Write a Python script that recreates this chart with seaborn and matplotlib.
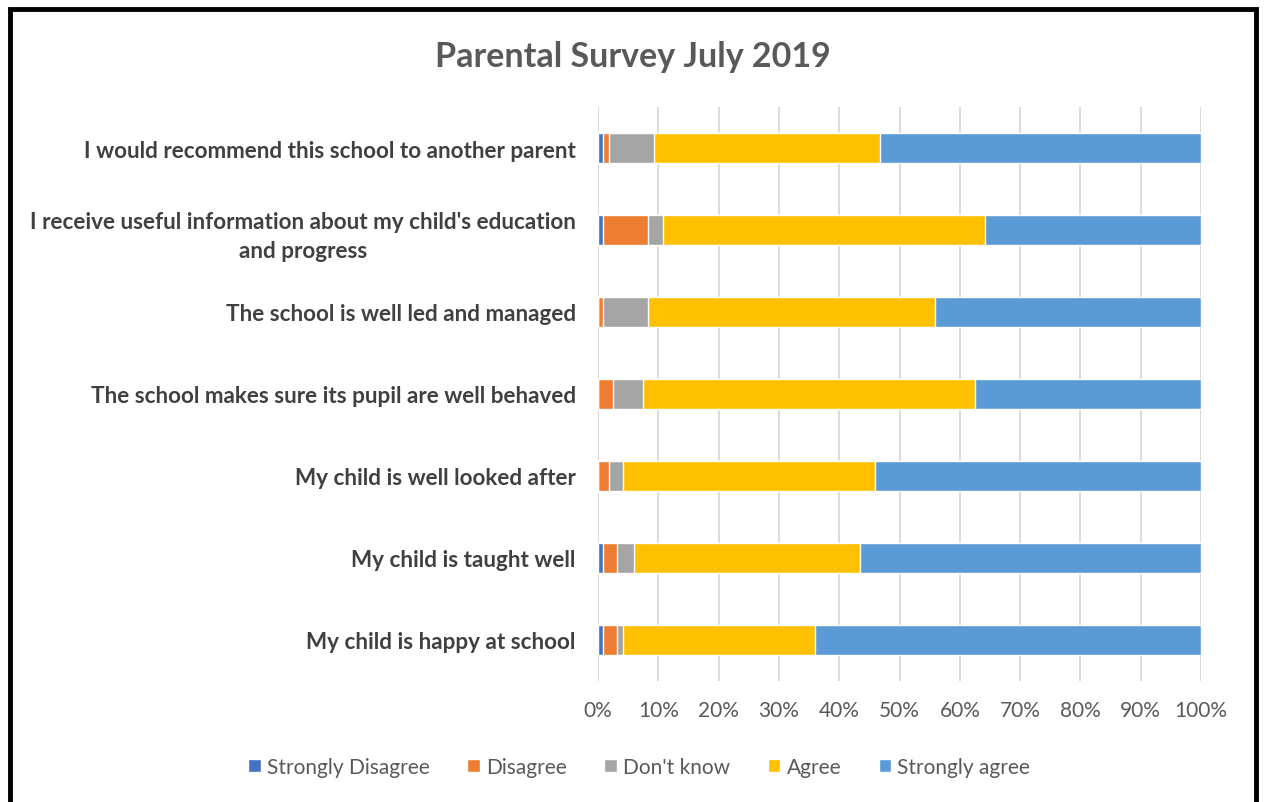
import numpy as np
import pandas as pd
import seaborn as sns
import matplotlib.pyplot as plt
from matplotlib.patches import Rectangle
from matplotlib.ticker import PercentFormatter

sns.set_style("white")
plt.rcParams['font.family'] = ['Lato', 'DejaVu Sans']

questions = [
    "I would recommend this school to another parent",
    "I receive useful information about my child's education\nand progress",
    "The school is well led and managed",
    "The school makes sure its pupil are well behaved",
    "My child is well looked after",
    "My child is taught well",
    "My child is happy at school",
]
responses = ["Strongly Disagree", "Disagree", "Don't know", "Agree", "Strongly agree"]
strongly_disagree = [0.8, 0.8, 0.0, 0.0, 0.0, 0.8, 0.8]
disagree = [1.0, 7.5, 0.8, 2.4, 1.8, 2.4, 2.4]
dont_know = [7.4, 2.5, 7.5, 5.1, 2.3, 2.7, 0.9]
agree = [37.6, 53.4, 47.6, 55.0, 41.8, 37.5, 31.9]
strongly_agree = [53.2, 35.8, 44.1, 37.5, 54.1, 56.6, 64.0]
colors = ["#4472C4", "#ED7D31", "#A5A5A5", "#FFC000", "#5B9BD5"]

df = pd.DataFrame({
    "question": questions,
    "Strongly Disagree": strongly_disagree,
    "Disagree": disagree,
    "Don't know": dont_know,
    "Agree": agree,
    "Strongly agree": strongly_agree,
})
vals = df[responses]
df[responses] = vals.div(vals.sum(axis=1), axis=0) * 100
cum = df[responses].cumsum(axis=1)
cum["question"] = df["question"]

fig = plt.figure(figsize=(12.66, 8.03), dpi=100)
ax = fig.add_axes([0.4724, 0.1507, 0.4763, 0.7148])

# draw cumulative bars from the right-most segment down so they stack visually
for resp, col in reversed(list(zip(responses, colors))):
    sns.barplot(data=cum, x=resp, y="question", color=col, ax=ax,
                width=0.375, saturation=1, label=resp, orient="h")

ax.set_xlim(0, 100)
ax.set_ylim(6.5, -0.5)
ax.set_xticks(np.arange(0, 101, 10))
ax.xaxis.set_major_formatter(PercentFormatter(decimals=0))
ax.set_xlabel("")
ax.set_ylabel("")
ax.grid(axis="x", color="#D9D9D9", linewidth=1.3)
ax.set_axisbelow(True)
for s in ax.spines.values():
    s.set_visible(False)
ax.axvline(0, color="#D9D9D9", linewidth=1.3, zorder=0)
ax.tick_params(axis="x", length=0, pad=14, labelsize=15, labelcolor="#595959")
ax.tick_params(axis="y", length=0, pad=16, labelsize=16.2, labelcolor="#404040")
for t in ax.get_yticklabels():
    t.set_fontweight("bold")
    t.set_horizontalalignment("right")
    t.set_multialignment("center")
    t.set_linespacing(1.45)

handles, labels = ax.get_legend_handles_labels()
order = [labels.index(r) for r in responses]
ax.legend([handles[i] for i in order], [labels[i] for i in order],
          loc="center", bbox_to_anchor=(0.505, 0.044), bbox_transform=fig.transFigure,
          ncol=5, frameon=False, fontsize=15, handlelength=0.6, handleheight=0.6,
          handletextpad=0.3, columnspacing=1.8, labelcolor="#595959")

fig.text(0.5, 0.929, "Parental Survey July 2019", ha="center", va="center",
         fontsize=24.5, fontweight="bold", color="#595959")

fig.add_artist(Rectangle((10 / 1266, -0.05), 1246 / 1266, 1 - 10 / 803 + 0.05,
                         transform=fig.transFigure, fill=False,
                         edgecolor="black", linewidth=3.5))

fig.savefig("out.png", dpi=100)
